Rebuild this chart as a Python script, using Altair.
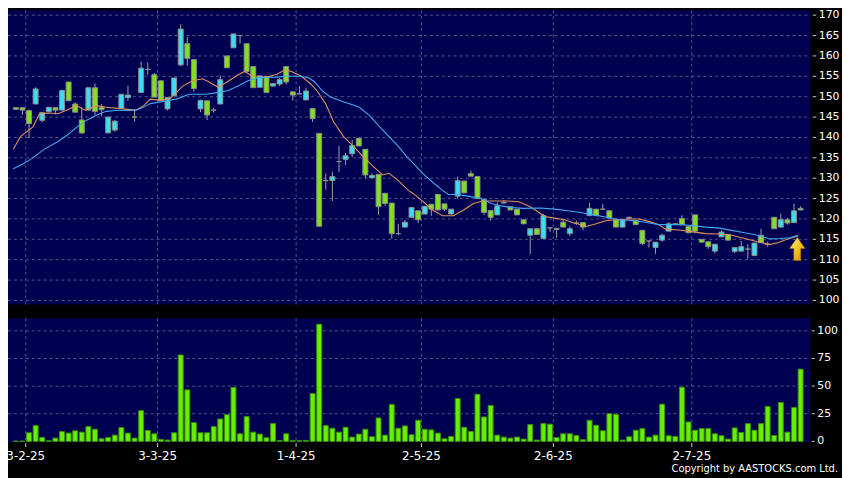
import altair as alt
import pandas as pd

# ---------------- data ----------------
opens = [
    147.3, 147.3, 146.6, 148.2, 144.2, 146.3, 147.3, 146.7, 153.6, 148.2,
    144.3, 146.7, 152.2, 147.4, 141.1, 141.8, 147.1, 149.8, 145.0, 151.0,
    156.7, 155.4, 153.9, 147.0, 150.2, 157.8, 163.0, 159.1, 147.0, 149.0,
    146.7, 148.2, 160.0, 162.0, 165.0, 163.0, 157.4, 152.3, 155.0, 152.6,
    153.1, 157.4, 151.2, 150.7, 149.2, 147.1, 141.0, 129.4, 129.4, 134.1,
    134.6, 136.0, 139.8, 137.1, 130.1, 130.9, 126.3, 123.9, 116.4, 118.0,
    120.4, 122.0, 121.2, 123.6, 126.0, 123.7, 121.2, 125.6, 129.3, 131.1,
    130.4, 124.8, 122.1, 121.0, 124.1, 123.0, 122.4, 119.8, 116.0, 117.6,
    115.2, 117.8, 117.4, 119.2, 116.4, 119.0, 119.1, 120.8, 122.4, 122.4,
    122.0, 119.8, 118.0, 120.4, 119.6, 117.2, 114.6, 113.0, 114.8, 117.0,
    118.8, 120.1, 118.2, 121.0, 115.0, 114.4, 112.1, 115.6, 116.2, 112.0,
    112.1, 112.6, 111.0, 116.0, 113.8, 120.4, 118.0, 119.8, 119.1, 122.2,
]
closes = [
    146.9, 146.7, 143.4, 151.9, 146.1, 147.4, 146.7, 151.5, 149.0, 146.2,
    141.1, 152.2, 146.4, 146.8, 145.0, 144.0, 150.6, 150.4, 145.0, 157.0,
    156.7, 149.9, 149.0, 149.8, 154.6, 166.6, 159.4, 152.0, 149.1, 145.5,
    146.7, 154.2, 157.1, 165.4, 165.0, 156.2, 152.2, 155.1, 151.0, 153.2,
    154.2, 153.6, 150.4, 150.7, 151.4, 144.6, 118.2, 129.4, 130.4, 134.1,
    135.5, 138.0, 137.9, 130.8, 130.7, 123.0, 123.8, 116.4, 116.4, 119.2,
    122.8, 119.8, 123.1, 122.4, 122.2, 122.4, 122.4, 129.4, 126.4, 130.5,
    125.0, 121.6, 120.4, 123.2, 123.9, 122.2, 121.0, 118.8, 117.6, 116.2,
    120.8, 117.8, 117.7, 118.0, 117.6, 119.0, 118.0, 122.6, 120.8, 122.4,
    120.2, 118.0, 119.8, 120.2, 118.6, 114.0, 114.6, 114.3, 116.0, 118.8,
    118.8, 118.6, 116.6, 117.0, 114.3, 113.2, 113.8, 116.8, 114.8, 113.0,
    113.2, 112.6, 114.1, 114.2, 113.8, 117.6, 119.8, 119.0, 122.0, 122.6,
]
highs = [
    147.3, 147.3, 146.8, 152.3, 146.1, 147.4, 147.3, 151.8, 153.6, 148.6,
    147.4, 152.2, 153.2, 148.2, 145.0, 144.2, 150.6, 152.7, 146.7, 158.6,
    158.4, 155.8, 153.9, 149.8, 154.6, 167.8, 164.7, 159.1, 149.3, 149.0,
    147.3, 155.2, 160.0, 165.4, 165.0, 163.0, 157.4, 155.1, 155.0, 153.2,
    154.6, 157.4, 151.2, 152.6, 152.2, 147.1, 141.0, 131.2, 131.6, 137.9,
    136.2, 139.4, 139.8, 137.1, 131.2, 130.9, 126.3, 123.9, 118.8, 119.8,
    122.8, 122.0, 123.1, 123.6, 126.0, 123.7, 122.4, 130.4, 129.3, 131.8,
    130.4, 124.8, 122.1, 124.0, 124.6, 123.0, 122.4, 119.8, 117.6, 117.6,
    121.2, 117.8, 117.7, 119.8, 118.2, 119.6, 119.1, 123.9, 122.4, 123.7,
    122.0, 119.8, 119.8, 120.6, 119.6, 117.2, 114.6, 114.3, 116.4, 119.2,
    119.0, 120.9, 118.2, 121.0, 115.0, 114.4, 113.8, 117.2, 116.2, 113.0,
    114.6, 113.8, 114.1, 117.6, 114.4, 120.4, 121.3, 120.2, 123.8, 123.1,
]
lows = [
    146.9, 145.5, 139.8, 148.2, 143.7, 146.3, 145.7, 146.7, 149.0, 146.2,
    140.9, 146.7, 145.5, 145.2, 141.1, 141.4, 147.1, 149.0, 143.9, 151.0,
    155.4, 149.9, 149.0, 146.6, 150.2, 157.5, 157.6, 151.2, 146.2, 144.3,
    146.1, 148.2, 157.1, 162.0, 163.0, 156.2, 152.2, 152.3, 151.0, 152.6,
    152.6, 153.0, 149.0, 150.5, 149.2, 143.8, 118.2, 127.2, 124.4, 131.5,
    133.2, 135.2, 137.9, 130.0, 130.1, 121.0, 123.2, 115.2, 116.0, 118.0,
    120.4, 119.0, 121.2, 120.8, 122.2, 121.9, 121.2, 125.0, 126.4, 130.5,
    125.0, 121.0, 119.6, 121.0, 123.8, 122.2, 121.0, 118.8, 111.4, 116.2,
    115.2, 116.8, 115.4, 118.0, 115.8, 118.6, 117.2, 120.8, 120.8, 122.4,
    120.2, 118.0, 118.0, 120.0, 118.6, 113.6, 113.0, 111.4, 114.4, 117.0,
    118.6, 118.6, 116.6, 116.6, 114.3, 112.6, 111.5, 115.6, 114.8, 111.6,
    112.1, 110.2, 111.0, 114.2, 113.2, 117.6, 118.0, 118.6, 119.1, 122.2,
]
volumes = [
    0.3, 0.3, 7.8, 14.3, 3.6, 0.6, 3.0, 9.0, 7.5, 9.6,
    8.4, 13.4, 11.0, 2.4, 3.6, 5.7, 12.5, 7.5, 3.0, 27.8,
    9.9, 6.9, 1.8, 1.2, 7.8, 78.2, 46.6, 17.0, 7.8, 7.8,
    13.4, 20.3, 24.2, 48.7, 6.9, 22.4, 8.4, 6.6, 3.3, 16.1,
    0.9, 6.9, 0.9, 0.9, 0.9, 43.3, 106.0, 14.3, 11.9, 8.4,
    12.8, 3.9, 6.6, 11.0, 4.2, 21.2, 5.7, 33.4, 11.9, 14.0,
    6.0, 19.1, 11.0, 10.4, 7.5, 2.4, 4.5, 38.8, 12.8, 9.0,
    42.7, 22.1, 32.5, 5.7, 3.9, 3.0, 3.9, 2.1, 15.2, 1.2,
    16.1, 15.6, 3.6, 6.9, 6.9, 5.4, 1.5, 19.1, 14.6, 9.6,
    25.1, 24.5, 1.2, 4.2, 10.1, 11.6, 3.9, 5.7, 33.7, 5.1,
    4.5, 49.0, 17.6, 10.1, 11.6, 11.6, 6.9, 5.1, 2.1, 12.2,
    8.1, 16.1, 10.1, 16.1, 31.6, 5.4, 35.2, 8.4, 30.7, 65.4,
]

# short moving average (orange) vertices: position, value
ma_s_pos = [-0.4, 0.7, 2.6, 3.6, 4.9, 6.4, 8.1, 9.1, 10.5, 12.3, 13.7, 16.2, 18.2, 19.4,
            20.4, 21.9, 23.3, 24.3, 25.3, 26.8, 28.3, 29.3, 30.7, 31.9, 33.7, 34.7, 35.9,
            37.1, 38.5, 39.6, 40.8, 41.8, 43.3, 44.8, 45.7, 47.0, 48.2, 49.7, 51.2, 52.6,
            54.1, 55.6, 56.6, 58.0, 59.5, 60.3, 61.8, 63.2, 64.7, 66.4, 67.9, 69.4, 70.8,
            72.6, 74.5, 76.3, 78.0, 79.5, 80.2, 81.7, 83.2, 84.6, 86.6, 88.0, 89.6, 91.1,
            93.0, 94.5, 96.0, 97.5, 98.5, 100.6, 103.2, 104.6, 106.5, 108.5, 110.5, 112.5,
            114.3, 115.7, 116.9, 118.6]
ma_s_val = [137.1, 140.2, 142.6, 145.8, 146.0, 145.8, 147.0, 147.9, 146.7, 147.8, 147.4, 147.0, 146.7, 147.8,
            149.4, 149.1, 149.4, 151.0, 152.6, 153.9, 154.4, 153.6, 152.3, 153.5, 155.4, 156.2, 155.0,
            154.7, 155.0, 155.5, 156.6, 156.2, 155.0, 153.0, 151.4, 148.2, 143.8, 140.2, 137.8, 135.4,
            133.0, 130.8, 131.2, 129.4, 127.0, 126.2, 124.2, 122.2, 120.8, 120.8, 122.2, 123.8, 124.4,
            124.4, 124.4, 124.2, 123.0, 121.4, 120.6, 120.2, 119.8, 119.0, 118.2, 118.8, 119.6, 119.8,
            120.0, 120.0, 119.4, 118.6, 117.5, 117.3, 116.7, 116.4, 116.3, 116.0, 115.2, 114.4,
            113.7, 114.2, 115.0, 115.8]

# long moving average (blue) vertices
ma_l_pos = [-0.4, 1.0, 2.4, 4.4, 6.4, 7.8, 9.3, 10.8, 12.3, 13.7, 15.2, 16.7, 18.2, 19.5,
            20.4, 22.4, 24.3, 26.3, 28.7, 30.7, 32.2, 33.7, 35.2, 36.6, 38.1, 39.6, 40.8,
            42.8, 44.3, 45.2, 46.5, 47.7, 49.2, 50.7, 52.1, 53.6, 55.1, 56.6, 58.0, 59.2,
            60.3, 61.7, 63.2, 64.7, 65.6, 66.9, 68.6, 70.6, 72.1, 73.6, 75.1, 77.0, 79.5,
            81.7, 83.7, 85.6, 87.6, 89.6, 91.5, 93.5, 95.5, 97.5, 99.0, 100.6, 102.6, 104.6,
            106.5, 108.5, 110.5, 112.5, 114.4, 115.9, 117.4, 118.6]
ma_l_val = [132.3, 133.4, 134.8, 137.2, 139.0, 140.6, 142.6, 144.3, 145.5, 146.4, 146.6, 146.6, 146.7, 147.5,
            148.3, 148.8, 149.4, 150.6, 150.6, 151.0, 151.5, 152.6, 153.9, 154.6, 154.7, 154.8, 155.0,
            155.0, 154.7, 153.8, 151.4, 149.9, 149.0, 148.2, 147.4, 145.4, 142.7, 140.2, 137.8, 135.4,
            133.6, 131.2, 129.0, 127.0, 126.0, 126.0, 125.6, 125.0, 123.8, 123.2, 122.8, 122.6, 122.7,
            122.4, 122.0, 121.6, 121.0, 120.4, 119.8, 119.6, 119.2, 118.6, 118.6, 118.6, 118.4, 118.0,
            117.8, 117.2, 116.6, 116.0, 115.1, 115.2, 115.4, 116.0]

price_ticks = [100, 105, 110, 115, 120, 125, 130, 135, 140, 145, 150, 155, 160, 165, 170]
vol_ticks = [0, 25, 50, 75, 100]
vol_grid = [25, 50, 75, 100]
month_pos = [1.5, 21.5, 42.5, 61.5, 81.5, 102.5]
month_labels = ["3-2-25", "3-3-25", "1-4-25", "2-5-25", "2-6-25", "2-7-25"]
arrow_pos = [118.5]
arrow_price = [112.6]
copyright_text = ["Copyright by AASTOCKS.com Ltd."]

# ---------------- styling / layout ----------------
NAVY = "#000050"
GRID = "#54548f"
CYAN = "#3ddcf0"
GREEN = "#80e020"
DOJI = "#a8a8a8"
EDGE = "#8c8c8c"
WICK = "#a0a0a0"
VOL_FILL = "#66f000"
VOL_EDGE = "#3c8c0c"
MA_S = "#e0905a"
MA_L = "#40a8f0"
LABEL = "#ffffff"
FONT = "DejaVu Sans"

PLOT_W = 810
PRICE_TOP, PRICE_BOT = 0, 297
VOL_TOP, VOL_BOT = 311, 436

xs = alt.Scale(domain=[-0.44, 119.72], range=[0, PLOT_W], nice=False, zero=False)
ps = alt.Scale(domain=[100, 170], range=[293, 5], nice=False, zero=False)
vs = alt.Scale(domain=[0, 100], range=[435.3, 323.7], nice=False, zero=False)

df = pd.DataFrame({"i": list(range(len(opens))), "open": opens, "high": highs,
                   "low": lows, "close": closes, "vol": volumes})
df["kind"] = ["up" if c > o else ("down" if c < o else "flat") for o, c in zip(opens, closes)]

one = pd.DataFrame({"a": [0]})
pt_df = pd.DataFrame({"v": price_ticks, "lab": [str(t) for t in price_ticks]})
vt_df = pd.DataFrame({"v": vol_ticks, "lab": [str(t) for t in vol_ticks]})
vg_df = pd.DataFrame({"v": vol_grid})
m_df = pd.DataFrame({"p": month_pos, "lab": month_labels})
mas_df = pd.DataFrame({"i": ma_s_pos, "v": ma_s_val})
mal_df = pd.DataFrame({"i": ma_l_pos, "v": ma_l_val})
arr_df = pd.DataFrame({"i": arrow_pos, "p": arrow_price})
cp_df = pd.DataFrame({"t": copyright_text})

X = lambda f: alt.X(f, scale=xs, axis=None)
YP = lambda f: alt.Y(f, scale=ps, axis=None)
YV = lambda f: alt.Y(f, scale=vs, axis=None)

layers = []
# panel backgrounds
layers.append(alt.Chart(one).mark_rect(color=NAVY).encode(
    x=alt.value(0), x2=alt.value(PLOT_W), y=alt.value(PRICE_TOP), y2=alt.value(PRICE_BOT)))
layers.append(alt.Chart(one).mark_rect(color=NAVY).encode(
    x=alt.value(0), x2=alt.value(PLOT_W), y=alt.value(VOL_TOP), y2=alt.value(VOL_BOT)))
# gridlines
layers.append(alt.Chart(pt_df).mark_rule(color=GRID, strokeDash=[3, 3], strokeWidth=1).encode(
    y=YP("v:Q"), x=alt.value(0), x2=alt.value(PLOT_W)))
layers.append(alt.Chart(vg_df).mark_rule(color=GRID, strokeDash=[3, 3], strokeWidth=1).encode(
    y=YV("v:Q"), x=alt.value(0), x2=alt.value(PLOT_W)))
layers.append(alt.Chart(m_df).mark_rule(color=GRID, strokeDash=[3, 3], strokeWidth=1).encode(
    x=X("p:Q"), y=alt.value(PRICE_TOP), y2=alt.value(PRICE_BOT)))
layers.append(alt.Chart(m_df).mark_rule(color=GRID, strokeDash=[3, 3], strokeWidth=1).encode(
    x=X("p:Q"), y=alt.value(VOL_TOP), y2=alt.value(VOL_BOT)))
# candles
layers.append(alt.Chart(df).mark_rule(color=WICK, strokeWidth=1).encode(
    x=X("i:Q"), y=YP("low:Q"), y2="high:Q"))
layers.append(alt.Chart(df).mark_bar(size=5, stroke=EDGE, strokeWidth=1).encode(
    x=X("i:Q"), y=YP("open:Q"), y2="close:Q",
    color=alt.Color("kind:N", scale=alt.Scale(domain=["up", "down", "flat"],
                                              range=[CYAN, GREEN, DOJI]), legend=None)))
# moving averages
layers.append(alt.Chart(mas_df).mark_line(color=MA_S, strokeWidth=1.1).encode(
    x=X("i:Q"), y=YP("v:Q")))
layers.append(alt.Chart(mal_df).mark_line(color=MA_L, strokeWidth=1.1).encode(
    x=X("i:Q"), y=YP("v:Q")))
# arrow annotation
ARROW = "M 0 -1 L 0.68 -0.05 L 0.3 -0.05 L 0.3 1 L -0.3 1 L -0.3 -0.05 L -0.68 -0.05 Z"
layers.append(alt.Chart(arr_df).mark_point(
    shape=ARROW, size=540, filled=True, opacity=1,
    fill=alt.Gradient(gradient="linear",
                      stops=[alt.GradientStop(color="#fff2a0", offset=0),
                             alt.GradientStop(color="#f5c020", offset=0.5),
                             alt.GradientStop(color="#d08a00", offset=1)],
                      x1=0, x2=1, y1=0, y2=1),
    stroke="#a06a00", strokeWidth=0.6).encode(x=X("i:Q"), y=YP("p:Q")))
# volume bars
layers.append(alt.Chart(df).mark_bar(size=5, color=VOL_FILL, stroke=VOL_EDGE, strokeWidth=1).encode(
    x=X("i:Q"), y=YV("vol:Q"), y2=alt.datum(0)))
# right axis ticks and labels
layers.append(alt.Chart(pt_df).mark_rule(color="#c8c8c8").encode(
    y=YP("v:Q"), x=alt.value(812.5), x2=alt.value(816)))
layers.append(alt.Chart(pt_df).mark_text(align="left", baseline="middle", fontSize=11,
                                         font=FONT, color=LABEL).encode(
    y=YP("v:Q"), x=alt.value(818.5), text="lab:N"))
layers.append(alt.Chart(vt_df).mark_rule(color="#c8c8c8").encode(
    y=YV("v:Q"), x=alt.value(811.5), x2=alt.value(814.5)))
layers.append(alt.Chart(vt_df).mark_text(align="left", baseline="middle", fontSize=11,
                                         font=FONT, color=LABEL).encode(
    y=YV("v:Q"), x=alt.value(817), text="lab:N"))
# bottom axis ticks and labels
layers.append(alt.Chart(m_df).mark_rule(color="#c8c8c8").encode(
    x=X("p:Q"), y=alt.value(437), y2=alt.value(441)))
layers.append(alt.Chart(m_df).mark_text(align="center", baseline="middle", fontSize=12,
                                        font=FONT, color=LABEL).encode(
    x=X("p:Q"), y=alt.value(450), text="lab:N"))
# copyright
layers.append(alt.Chart(cp_df).mark_text(align="right", baseline="middle", fontSize=10,
                                         font=FONT, color=LABEL).encode(
    x=alt.value(838), y=alt.value(463.5), text="t:N"))

chart = alt.layer(*layers).resolve_scale(y="independent").properties(
    width=842, height=470,
    autosize=alt.AutoSizeParams(type="none"),
    padding=0,
    background="#000000",
).configure_view(stroke=None)

chart.save("out.html", embed_options={"renderer": "svg", "actions": False})
